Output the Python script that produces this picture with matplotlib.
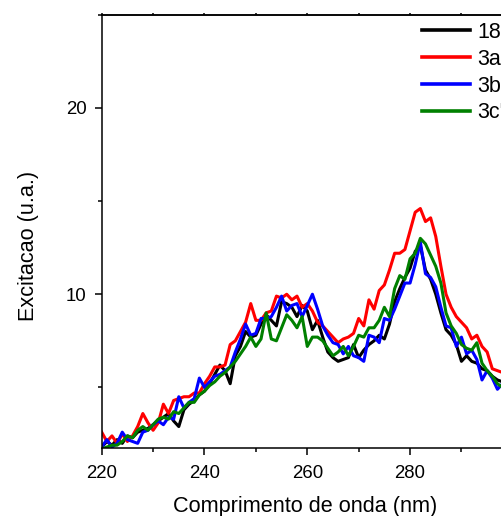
import numpy as np
import matplotlib
matplotlib.use("Agg")
from matplotlib import pyplot as plt
from matplotlib.ticker import FixedLocator, MultipleLocator

plt.rcParams['font.family'] = ['Liberation Sans', 'DejaVu Sans']

# wavelength (nm), one point per nm
wavelength = list(range(220, 301))

serie_18 = [1.8, 2.1, 1.9, 2.2, 2.0, 2.4, 2.3, 2.6, 2.7, 2.8,
            3.0, 3.2, 3.4, 3.6, 3.2, 2.9, 3.8, 4.1, 4.3, 4.6,
            4.8, 5.2, 5.7, 6.2, 5.9, 5.2, 6.7, 7.2, 8.0, 7.7,
            7.8, 8.4, 8.9, 8.6, 8.3, 9.6, 9.5, 9.3, 8.8, 9.4,
            9.1, 8.1, 8.6, 7.7, 6.9, 6.6, 6.4, 6.5, 6.6, 7.3,
            6.6, 7.0, 7.3, 7.5, 7.8, 7.6, 8.4, 9.6, 10.3, 10.9,
            11.4, 12.3, 12.6, 11.3, 10.8, 10.0, 9.0, 8.1, 7.8, 7.3,
            6.4, 6.7, 6.4, 6.3, 6.0, 5.9, 5.6, 5.4, 5.3, 5.2,
            5.1]

serie_3a = [2.6, 2.1, 2.4, 2.0, 2.5, 2.1, 2.4, 2.9, 3.6, 3.1,
            2.7, 3.1, 4.1, 3.6, 4.3, 4.4, 4.5, 4.5, 4.7, 4.7,
            5.2, 5.6, 6.1, 6.1, 6.2, 7.3, 7.5, 8.0, 8.5, 9.5,
            8.6, 8.6, 9.0, 9.1, 9.9, 9.8, 10.0, 9.7, 9.9, 9.3,
            9.5, 9.1, 8.5, 8.3, 8.0, 7.7, 7.4, 7.6, 7.7, 7.9,
            8.7, 8.3, 9.7, 9.2, 10.2, 10.5, 11.3, 12.2, 12.2, 12.4,
            13.4, 14.4, 14.6, 13.9, 14.1, 13.1, 11.5, 10.0, 9.3, 8.8,
            8.5, 8.2, 7.6, 7.8, 7.2, 6.9, 6.0, 5.9, 5.8, 5.7,
            5.6]

serie_3b = [1.8, 2.2, 1.8, 2.0, 2.6, 2.2, 2.1, 2.0, 2.6, 2.7,
            3.0, 3.2, 3.0, 3.4, 3.3, 4.5, 3.9, 4.2, 4.4, 5.5,
            5.0, 5.3, 5.6, 5.7, 5.9, 6.1, 6.9, 7.6, 8.4, 7.8,
            7.9, 8.7, 8.7, 8.8, 9.3, 9.9, 9.1, 9.4, 9.5, 8.8,
            9.4, 10.0, 9.2, 8.3, 7.8, 7.4, 7.3, 6.8, 7.2, 6.7,
            6.6, 6.4, 7.8, 7.7, 7.4, 8.7, 8.6, 9.2, 9.9, 10.6,
            10.6, 11.6, 12.8, 11.1, 10.9, 10.4, 9.3, 8.3, 8.2, 7.2,
            7.7, 6.8, 7.0, 6.5, 5.4, 5.9, 5.5, 4.9, 5.2, 5.1,
            5.0]

serie_3c = [1.7, 1.8, 1.9, 1.9, 2.1, 2.4, 2.3, 2.7, 2.9, 2.7,
            3.0, 3.3, 3.4, 3.3, 3.7, 3.6, 3.9, 4.2, 4.2, 4.6,
            4.8, 5.1, 5.3, 5.6, 5.8, 6.1, 6.4, 6.8, 7.2, 7.7,
            7.2, 7.6, 9.0, 7.6, 7.5, 8.2, 8.9, 8.6, 8.2, 8.8,
            7.2, 7.7, 7.7, 7.5, 7.1, 6.7, 6.9, 7.2, 6.7, 7.2,
            7.8, 7.7, 8.2, 8.2, 8.6, 9.3, 8.8, 10.3, 11.0, 10.8,
            11.9, 12.2, 13.0, 12.7, 12.1, 11.5, 10.6, 9.0, 8.3, 7.9,
            7.3, 7.1, 7.0, 7.4, 6.3, 5.9, 5.6, 5.2, 5.0, 5.0,
            4.9]

labels = ["18", "3a'", "3b'", "3c'"]
colors = ["black", "#ff0000", "#0000ff", "#008000"]
series = [serie_18, serie_3a, serie_3b, serie_3c]

x_major = [220, 240, 260, 280]
x_minor = [230, 250, 270, 290]

fig = plt.figure(figsize=(5.02, 5.16), dpi=100)
# the axes run past the right edge of the figure, as in the reference crop
ax = fig.add_axes([0.2026, 0.1318, 0.819, 0.8397])

for y, c, lab in zip(series, colors, labels):
    ax.plot(wavelength, y, color=c, lw=2.2, label=lab)

ax.set_xlim(220, 300)
ax.set_ylim(1.75, 25)

ax.xaxis.set_major_locator(FixedLocator(x_major))
ax.xaxis.set_minor_locator(FixedLocator(x_minor))
ax.yaxis.set_major_locator(MultipleLocator(10))
ax.yaxis.set_minor_locator(MultipleLocator(5))

for s in ax.spines.values():
    s.set_linewidth(1.1)
ax.tick_params(which='both', direction='out', width=1.1, labelsize=13.4,
               top=False, right=False)
ax.tick_params(which='major', length=5)
ax.tick_params(which='minor', length=3)
ax.tick_params(axis='x', pad=7)
ax.tick_params(axis='y', pad=6)

# small ticks on the top spine
top = ax.secondary_xaxis('top')
top.set_xticks(x_major + x_minor)
top.tick_params(direction='out', length=1.5, width=1.1, labeltop=False)
top.spines['top'].set_linewidth(1.1)

ax.set_xlabel("Comprimento de onda (nm)", fontsize=15.6)
ax.xaxis.set_label_coords(305 / 502, 1 - 496 / 516, transform=fig.transFigure)
ax.set_ylabel("Excitacao (u.a.)", fontsize=15.6)
ax.yaxis.set_label_coords(39 / 502, 1 - 246 / 516, transform=fig.transFigure)

leg = ax.legend(loc='upper left', bbox_to_anchor=(422 / 502, 1 - 22 / 516),
                bbox_transform=fig.transFigure, frameon=False, fontsize=15.5,
                handlelength=2.25, handletextpad=0.32, labelspacing=0.27,
                borderpad=0, borderaxespad=0)
for line in leg.get_lines():
    line.set_linewidth(2.6)

fig.savefig("out.png", dpi=100)
